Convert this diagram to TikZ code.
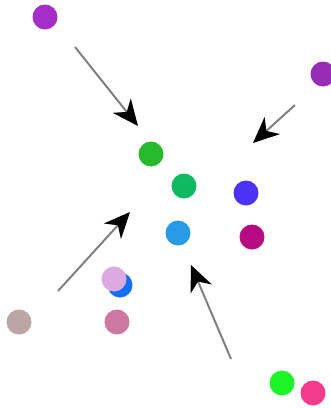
\documentclass[tikz,border=0pt]{standalone}
\usetikzlibrary{arrows.meta}
\definecolor{cpurpleA}{RGB}{165,45,200}
\definecolor{cpurpleB}{RGB}{150,45,180}
\definecolor{cgreenA}{RGB}{40,185,45}
\definecolor{cgreenB}{RGB}{15,185,100}
\definecolor{cviolet}{RGB}{75,50,245}
\definecolor{clblue}{RGB}{40,155,230}
\definecolor{cmagenta}{RGB}{180,10,130}
\definecolor{cplum}{RGB}{220,170,225}
\definecolor{cblue}{RGB}{20,110,240}
\definecolor{ctaupe}{RGB}{190,165,165}
\definecolor{cmauve}{RGB}{205,120,160}
\definecolor{clime}{RGB}{30,245,40}
\definecolor{cpink}{RGB}{245,60,140}
\begin{document}
\begin{tikzpicture}
  [x=1pt,y=-1pt,every node/.style={circle,inner sep=0pt,minimum size=25pt},
   push/.style={draw=gray,line width=2pt,-{Stealth[length=26pt,width=23pt,inset=8pt,color=black]}}]
  \useasboundingbox (0,0) rectangle (331,408);
  \node[fill=cpurpleA] (d1) at (45,17) {};
  \node[fill=cpurpleB] (d2) at (323,74) {};
  \node[fill=cgreenA] (d3) at (151,154) {};
  \node[fill=cgreenB] (d4) at (184,186) {};
  \node[fill=cviolet] (d5) at (246,193) {};
  \node[fill=clblue] (d6) at (178,233) {};
  \node[fill=cmagenta] (d7) at (252,237) {};
  \node[fill=cblue] (d8) at (120,285) {};
  \node[fill=cplum] (d9) at (114,279) {};
  \node[fill=ctaupe] (d10) at (19,322) {};
  \node[fill=cmauve] (d11) at (117,322) {};
  \node[fill=clime] (d12) at (282,383) {};
  \node[fill=cpink] (d13) at (313,393) {};

  % Pfeile zur Mitte
  \coordinate (a1) at (75,47);   \coordinate (b1) at (138,126);
  \coordinate (a2) at (295,105); \coordinate (b2) at (253,143);
  \coordinate (a3) at (58,291);  \coordinate (b3) at (130,212);
  \coordinate (a4) at (231,359); \coordinate (b4) at (191,265);
  \draw[push] (a1) -- (b1);
  \draw[push] (a2) -- (b2);
  \draw[push] (a3) -- (b3);
  \draw[push] (a4) -- (b4);
\end{tikzpicture}
\end{document}
